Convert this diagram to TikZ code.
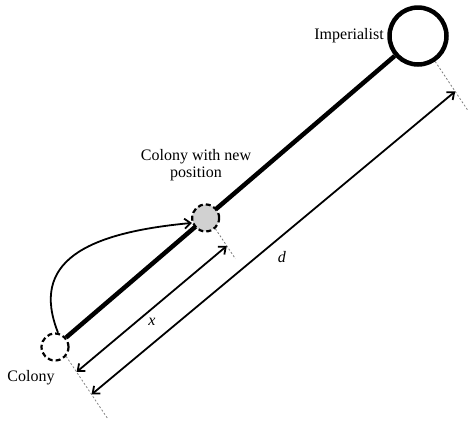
\documentclass[tikz,border=0pt]{standalone}
\usepackage{fontspec}
\setmainfont{Liberation Serif}
\usetikzlibrary{arrows.meta,calc,positioning}
\tikzset{
  lbl/.style={font=\fontsize{16}{17}\selectfont},
  dimarrow/.style={line width=1.8pt,{Straight Barb[length=6pt,width=10pt]}-{Straight Barb[length=6pt,width=10pt]}},
  extline/.style={gray,line width=0.8pt,dash pattern=on 2pt off 2pt},
  colcircle/.style={circle,draw,line width=2.2pt,dash pattern=on 5pt off 3pt,minimum size=27pt,inner sep=0pt},
}
\begin{document}
\begin{tikzpicture}[x=1pt,y=-1pt]
    \useasboundingbox (0,0) rectangle (471,421);

    % Cercles
    \node[circle,draw,line width=4.5pt,minimum size=57pt,inner sep=0pt] (imp) at (418,36) {};
    \node[colcircle] (col) at (55,347) {};

    % Droite
    \draw[line width=4.5pt] (col) -- (imp);

    % Nouvelle position
    \node[colcircle,fill=black!18] (new) at ($(col)!0.415!(imp)$) {};

    % Lignes de rappel
    \draw[extline] (col.-40) -- ++(41.6,62.4) coordinate (ecol);
    \draw[extline] (new.-48) -- ++(20,30) coordinate (enew);
    \draw[extline] (imp.-56) -- ++(33.3,49.9) coordinate (eimp);
    \coordinate (xa) at ($(col.-40)!0.25!(ecol)$);
    \coordinate (da) at ($(col.-40)!0.61!(ecol)$);
    \coordinate (xb) at ($(new.-48)!0.57!(enew)$);
    \coordinate (db) at ($(imp.-56)!0.6!(eimp)$);

    % Cotes
    \draw[dimarrow] (xa) -- (xb);
    \draw[dimarrow] (da) -- (db);

    % Deplacement
    \draw[line width=1.8pt,-{Straight Barb[length=6pt,width=10pt]}] (col.78) .. controls (30,262) and (85,233) .. (new.200);

    % Textes
    \node[lbl, left=0pt of imp] (limp) {Imperialist};
    \node[lbl, align=center] (lnew) at (196,165) {Colony with new\\position};
    \node[lbl] (lcol) at (31,378) {Colony};
    \node[lbl] (lx) at (152,322) {\textit{x}};
    \node[lbl] (ld) at (282,257) {\textit{d}};
\end{tikzpicture}
\end{document}
